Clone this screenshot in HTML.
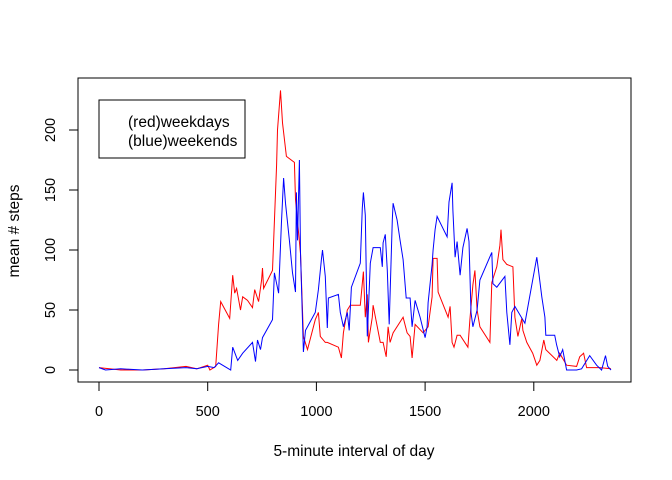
<!DOCTYPE html>
<html><head><meta charset="utf-8"><style>
body{margin:0;background:#fff}
svg{display:block;font-family:"Liberation Sans",Arial,sans-serif}
</style></head><body>
<svg id="chart" width="672" height="480">
<rect x="78" y="78" width="553" height="304" fill="none" stroke="#000"/>
<g id="axes"></g>
<g id="series"></g>
<text x="354" y="456" font-size="15.5" text-anchor="middle">5-minute interval of day</text>
<text transform="translate(19,231) rotate(-90)" font-size="15.5" text-anchor="middle">mean # steps</text>
<g>
<rect x="99" y="100" width="146" height="58" fill="#fff" stroke="#000"/>
<text x="128" y="127" font-size="15.5">(red)weekdays</text>
<text x="128" y="146" font-size="15.5">(blue)weekends</text>
</g>
</svg>
<script>
const xTicks=[0,500,1000,1500,2000];
const yTicks=[0,50,100,150,200];
const redX=[0,100,200,300,400,450,500,510,537,550,560,601,615,624,633,651,661,683,706,716,734,748,752,757,798,817,821,835,844,862,899,904,927,940,959,995,1009,1018,1041,1050,1101,1115,1124,1142,1156,1202,1216,1225,1234,1239,1257,1261,1294,1307,1321,1330,1339,1353,1399,1417,1431,1440,1454,1491,1514,1532,1537,1555,1560,1606,1615,1624,1633,1647,1661,1697,1706,1720,1729,1739,1752,1798,1807,1830,1844,1849,1858,1876,1904,1913,1927,1945,1950,1968,1995,2014,2028,2046,2055,2106,2119,2151,2197,2211,2229,2243,2303,2355];
const redY=[2,0,0,1,3,1,4,0,3,38,57,43,79,64,68,50,61,58,52,67,57,75,85,68,83,171,200,233,206,178,173,142,97,28,17,42,48,28,23,23,19,10,31,50,54,54,82,44,63,23,44,54,23,23,11,36,23,31,44,31,28,10,38,31,36,61,93,93,65,44,53,23,19,29,29,19,42,71,83,50,36,23,73,86,104,117,92,88,86,44,28,43,33,23,14,4,8,25,17,8,14,4,3,11,14,2,2,1];
const blueX=[0,30,100,200,300,400,450,500,530,550,606,615,638,661,706,720,729,743,752,798,807,826,839,849,858,876,890,904,908,913,922,927,940,950,995,1009,1023,1028,1041,1050,1055,1101,1110,1124,1142,1151,1161,1202,1211,1216,1225,1234,1248,1261,1294,1303,1307,1317,1326,1335,1349,1353,1371,1385,1399,1413,1431,1440,1454,1477,1500,1509,1514,1532,1537,1546,1555,1601,1610,1624,1628,1638,1647,1661,1674,1693,1702,1711,1720,1739,1752,1807,1812,1830,1867,1876,1890,1899,1913,1959,2014,2023,2037,2051,2055,2096,2105,2119,2133,2151,2197,2220,2257,2289,2312,2330,2340,2355];
const blueY=[2,0,1,0,1,2,1,3,2,6,0,19,8,14,23,7,25,17,27,42,81,64,122,160,139,108,81,65,148,108,175,98,15,33,48,67,92,100,78,35,60,63,48,36,48,33,69,89,135,148,129,28,89,102,102,86,106,113,83,38,125,139,125,108,92,60,60,36,58,44,27,36,56,88,100,117,128,111,140,156,133,94,107,79,102,118,107,48,36,50,75,98,72,69,78,48,21,48,53,39,94,81,61,44,29,29,21,11,17,0,0,1,12,4,0,12,3,0];
const X0=99,XS=0.2174,Y0=370,YS=1.2;
const xs=v=>X0+v*XS, ys=v=>Y0-v*YS;
const NS='http://www.w3.org/2000/svg';
const axes=document.getElementById('axes');
function mk(t,a,p){const e=document.createElementNS(NS,t);for(const k in a)e.setAttribute(k,a[k]);p.appendChild(e);return e;}
let l=mk('line',{x1:xs(xTicks[0]),x2:xs(xTicks[xTicks.length-1]),y1:382,y2:382,stroke:'#000'},axes);


xTicks.forEach(t=>{
 const tk=mk('line',{x1:xs(t),x2:xs(t),y1:382,y2:391,stroke:'#000'},axes);
 
 
 const tx=mk('text',{x:xs(t),y:416,'font-size':14.5,'text-anchor':'middle'},axes);tx.textContent=t;
 
 
});
l=mk('line',{x1:78,x2:78,y1:ys(yTicks[0]),y2:ys(yTicks[yTicks.length-1]),stroke:'#000'},axes);


yTicks.forEach(t=>{
 const tk=mk('line',{x1:69,x2:78,y1:ys(t),y2:ys(t),stroke:'#000'},axes);
 
 
 const tx=mk('text',{transform:`translate(55,${ys(t)}) rotate(-90)`,'font-size':14.5,'text-anchor':'middle'},axes);tx.textContent=t;
 
 
});
const sg=document.getElementById('series');
function draw(xa,ya,col,name){
 const pts=xa.map((x,i)=>xs(x).toFixed(1)+','+ys(ya[i]).toFixed(1)).join(' ');
 const p=mk('polyline',{points:pts,fill:'none',stroke:col,'stroke-width':1},sg);
 
 
}
draw(redX,redY,'#ff0000','weekdays-line');
draw(blueX,blueY,'#0000ff','weekends-line');
</script>
</body></html>
